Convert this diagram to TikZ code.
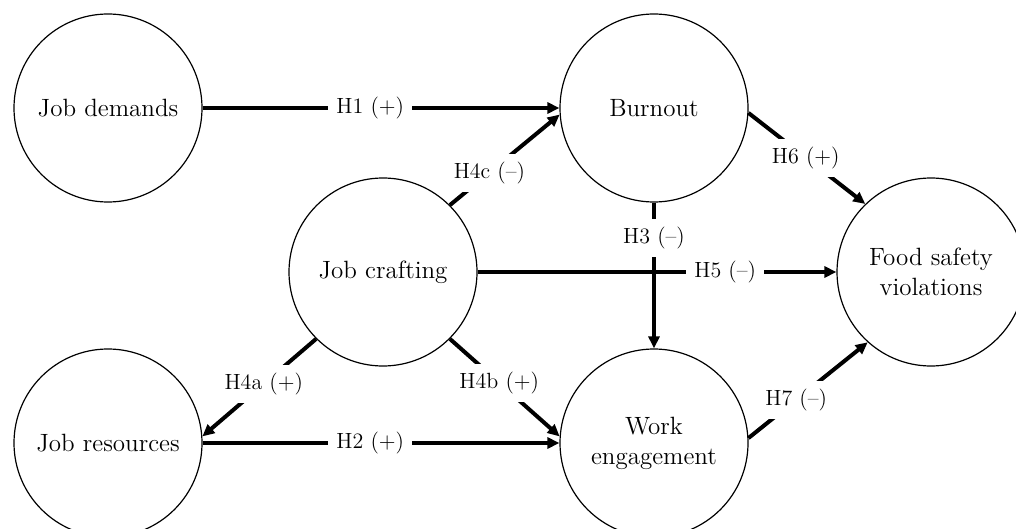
\documentclass[tikz,border=0pt]{standalone}
\usepackage{tikz}
\usetikzlibrary{arrows.meta}

\begin{document}
\begin{tikzpicture}[x=0.5pt,y=-0.5pt,
  construct/.style={circle,draw,line width=0.6pt,minimum size=94pt,inner sep=0pt,
    align=center,font=\fontsize{12.5}{15}\selectfont},
  link/.style={line width=2pt,-{Triangle[length=6pt,width=5.5pt]}},
  hyp/.style={fill=white,inner sep=4pt,font=\fontsize{11}{14}\selectfont}]
\clip (0,0) rectangle (1016,529);
\node[construct] (jd) at (108,108) {Job demands};
\node[construct] (bo) at (654,108) {Burnout};
\node[construct] (jc) at (383,272) {Job crafting};
\node[construct] (fsv) at (931,272) {Food safety\\violations};
\node[construct] (jr) at (108,443) {Job resources};
\node[construct] (we) at (654,443) {Work\\engagement};
\draw[link] (jd) -- node[hyp,pos=0.47] {H1 (+)} (bo);
\draw[link] (jr) -- node[hyp,pos=0.47] {H2 (+)} (we);
\draw[link] (bo) -- node[hyp,pos=0.24] {H3 (--)} (we);
\draw[link] (jc.225) -- node[hyp,pos=0.46] {H4a (+)} (jr.4);
\draw[link] (jc.315) -- node[hyp,pos=0.45] {H4b (+)} (we.176);
\draw[link] (jc.45) -- node[hyp,pos=0.36] {H4c (--)} (bo.184);
\draw[link] (jc) -- node[hyp,pos=0.69] {H5 (--)} (fsv);
\draw[link] (bo.-3) -- node[hyp,pos=0.49] {H6 (+)} (fsv.134);
\draw[link] (we.3) -- node[hyp,pos=0.40] {H7 (--)} (fsv.228);
\end{tikzpicture}
\end{document}
